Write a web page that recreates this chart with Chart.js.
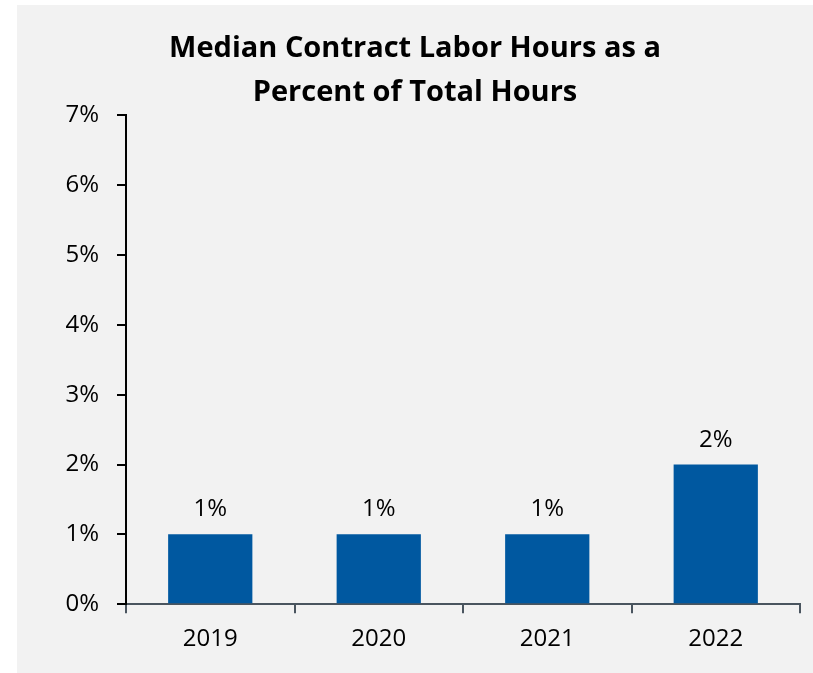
<!DOCTYPE html>
<html>
<head>
<meta charset="utf-8">
<script src="https://cdn.jsdelivr.net/npm/chart.js@4"></script>
<style>
    html, body { margin: 0; padding: 0; background: #ffffff; }
    #panel {
        position: absolute;
        left: 17px;
        top: 5px;
        width: 796px;
        height: 668px;
        background: #f2f2f2;
    }
</style>
</head>
<body>
<div id="panel"><canvas id="chart" width="796" height="668"></canvas></div>
<script>
// Median contract labor hours, share of total hours by year
const years = ['2019', '2020', '2021', '2022'];
const contractShare = [1, 1, 1, 2];
const yTicks = [0, 1, 2, 3, 4, 5, 6, 7];

const FONT = "'Open Sans', sans-serif";

// Percent labels above each bar
const valueLabels = {
    id: 'valueLabels',
    afterDatasetsDraw(chart) {
        const ctx = chart.ctx;
        const meta = chart.getDatasetMeta(0);
        ctx.save();
        ctx.font = '24px ' + FONT;
        ctx.fillStyle = '#000000';
        ctx.textAlign = 'center';
        ctx.textBaseline = 'alphabetic';
        meta.data.forEach((bar, i) => {
            ctx.fillText(contractShare[i] + '%', bar.x, bar.y - 18);
        });
        ctx.restore();
    }
};

const ctx = document.getElementById('chart').getContext('2d');

new Chart(ctx, {
    type: 'bar',
    data: {
        labels: years,
        datasets: [{
            data: contractShare,
            backgroundColor: '#0058a0',
            borderWidth: 0,
            barPercentage: 0.5,
            categoryPercentage: 1.0
        }]
    },
    options: {
        responsive: false,
        animation: false,
        layout: {
            // symmetric sides keep the title centred on the panel
            padding: { left: 13, right: 13, top: 0, bottom: 7 }
        },
        plugins: {
            legend: { display: false },
            tooltip: { enabled: false },
            title: {
                display: true,
                text: ['Median Contract Labor Hours as a', 'Percent of Total Hours'],
                color: '#000000',
                font: { family: FONT, size: 29, weight: 'bold', lineHeight: 1.54 },
                padding: { top: 21, bottom: 0 }
            }
        },
        scales: {
            x: {
                offset: true,
                border: { display: true, color: '#4a555f', width: 2 },
                grid: {
                    offset: true,
                    drawOnChartArea: false,
                    drawTicks: true,
                    tickLength: 9,
                    color: '#4a555f',
                    lineWidth: 2
                },
                ticks: {
                    color: '#000000',
                    font: { family: FONT, size: 24 },
                    padding: 12
                }
            },
            y: {
                min: 0,
                max: 7,
                afterBuildTicks(scale) {
                    scale.ticks = yTicks.map(v => ({ value: v }));
                },
                afterFit(scale) {
                    scale.width = 96;
                },
                border: { display: true, color: '#000000', width: 2 },
                grid: {
                    drawOnChartArea: false,
                    drawTicks: true,
                    tickLength: 9,
                    color: '#000000',
                    lineWidth: 2
                },
                ticks: {
                    color: '#000000',
                    font: { family: FONT, size: 24 },
                    padding: 18,
                    callback: (v) => v + '%'
                }
            }
        }
    },
    plugins: [valueLabels]
});
</script>
</body>
</html>
